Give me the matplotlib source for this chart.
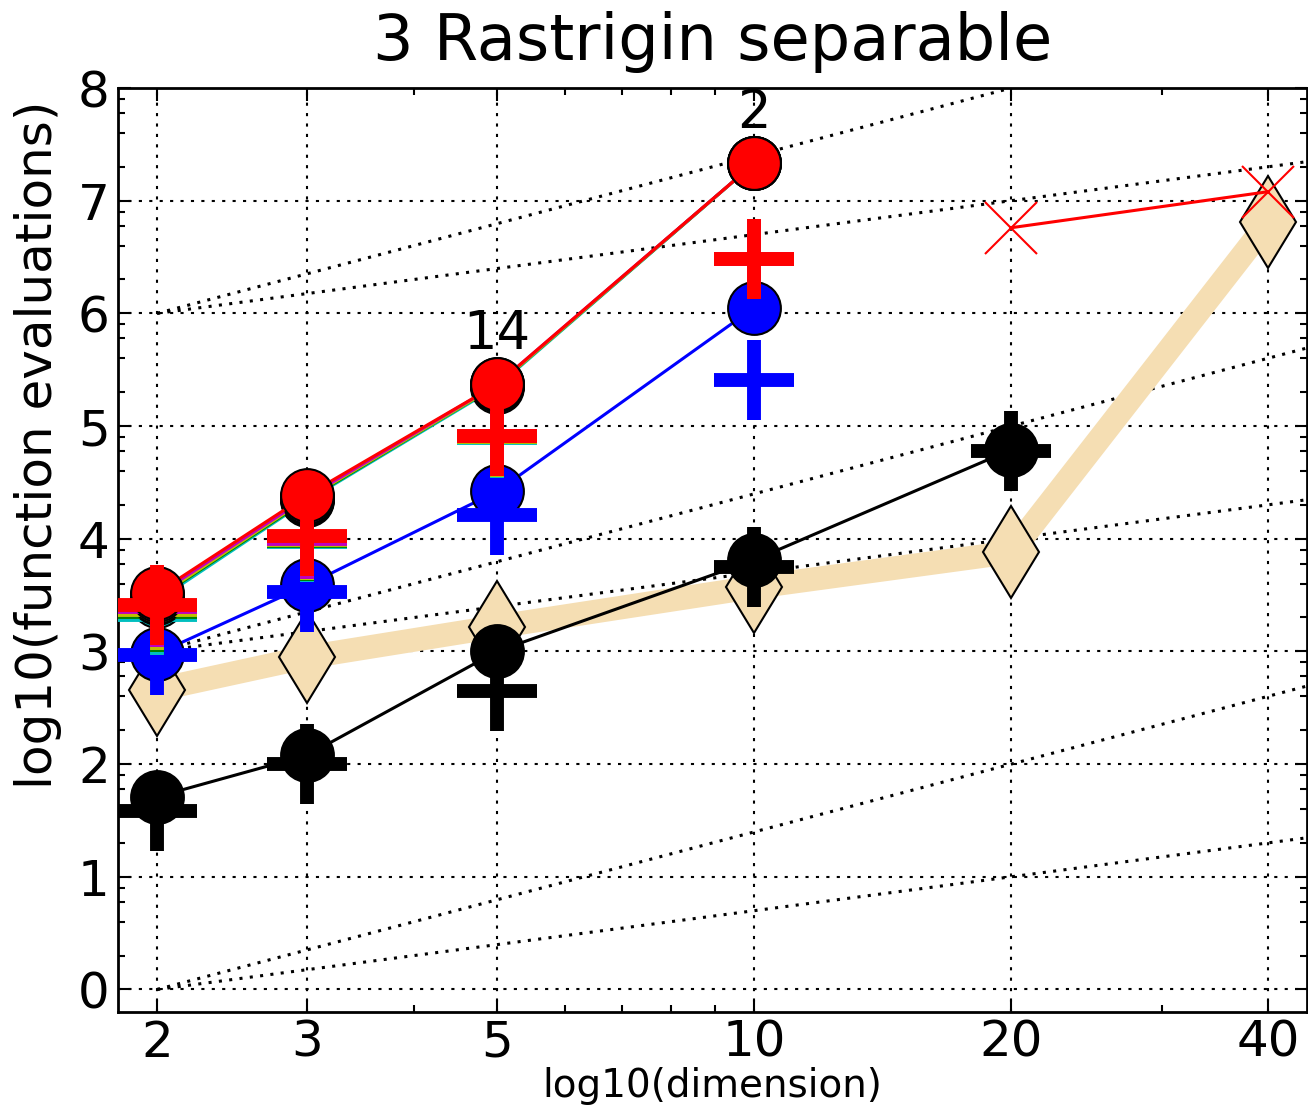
"""ERT vs dimension plot, f3 Rastrigin separable (COCO style)."""
import matplotlib
matplotlib.use('Agg')
import matplotlib.pyplot as plt
from matplotlib.ticker import FixedLocator, NullFormatter
import numpy as np

# ── data (log10 of function evaluations) ──
dims = [2, 3, 5, 10, 20, 40]

ert_k = [1.71, 2.08, 3.00, 3.81, 4.79]
med_k = [1.58, 2.00, 2.65, 3.75, 4.78]
ert_b = [2.98, 3.59, 4.42, 6.05]
med_b = [2.97, 3.53, 4.21, 5.41]
ert_c = [3.45, 4.34, 5.35, 7.33]
med_c = [3.32, 3.97, 4.89, 6.48]
ert_g = [3.47, 4.35, 5.36, 7.33]
med_g = [3.35, 3.98, 4.90, 6.48]
ert_y = [3.48, 4.36, 5.36, 7.33]
med_y = [3.37, 3.99, 4.90, 6.48]
ert_m = [3.50, 4.37, 5.37, 7.33]
med_m = [3.39, 4.00, 4.91, 6.48]
ert_r = [3.52, 4.39, 5.37, 7.33]
med_r = [3.41, 4.02, 4.91, 6.48]

best2009 = [2.66, 2.95, 3.22, 3.57, 3.88, 6.81]

maxevals_dims = [20, 40]
maxevals = [6.76, 7.08]

succ_dims = [5, 10]
succ_counts = ['14', '2']

# reference scaling lines: (x0, x1), (y0, y1)
ref_x = (2, 200)
ref_lines = [(0, 2), (0, 4), (3, 5), (3, 7), (6, 8), (6, 10)]

series = [
    ('k', ert_k, med_k),
    ('b', ert_b, med_b),
    ('c', ert_c, med_c),
    ('g', ert_g, med_g),
    ('y', ert_y, med_y),
    ('m', ert_m, med_m),
    ('r', ert_r, med_r),
]

fig = plt.figure(figsize=(13.08, 11.08), dpi=100)
ax = fig.add_axes([118/1308, 96/1108, 1189/1308, 924/1108])
ax.set_xscale('log')

# reference lines
for y0, y1 in ref_lines:
    ax.plot(ref_x, (y0, y1), color='k', lw=2.2, linestyle=(0, (1, 2.4)), zorder=1)

# best 2009
ax.plot(dims, best2009, color='wheat', lw=17, zorder=2, solid_joinstyle='miter')
ax.plot(dims, best2009, linestyle='', marker='d', markersize=47,
        markerfacecolor='wheat', markeredgecolor='k', markeredgewidth=1.5, zorder=3)

for color, ert, med in series:
    n = len(ert)
    ax.plot(dims[:n], ert, color=color, lw=2.2, marker='o', markersize=38,
            markerfacecolor=color, markeredgecolor='k', markeredgewidth=1.5, zorder=4)
    ax.plot(dims[:n], med, linestyle='', marker='+', markersize=58,
            markeredgecolor=color, markeredgewidth=10, zorder=4)

# max evals
ax.plot(maxevals_dims, maxevals, color='r', lw=2.2, marker='x', markersize=38,
        markeredgewidth=1.5, zorder=5)

# number of successful trials
for d, s in zip(succ_dims, succ_counts):
    yv = ert_r[dims.index(d)]
    ax.text(d, yv + 0.22, s, ha='center', va='bottom', fontsize=38, zorder=6)

ax.set_xlim(1.8, 44.4)
ax.set_ylim(-0.2, 8)

ax.xaxis.set_major_locator(FixedLocator(dims))
ax.set_xticklabels([str(d) for d in dims])
ax.xaxis.set_minor_locator(FixedLocator([4, 6, 7, 8, 9, 30]))
ax.xaxis.set_minor_formatter(NullFormatter())
ax.set_yticks(range(0, 9))
ax.yaxis.set_minor_locator(FixedLocator(
    [k + np.log10(m) for k in range(0, 8) for m in (2, 4, 6, 8)]))

ax.grid(True, which='major', color='k', lw=1.5, linestyle=(0, (1.5, 3.5)))
ax.tick_params(which='both', direction='in', top=True, right=True, width=1.5)
ax.tick_params(which='major', length=9, labelsize=36)
ax.tick_params(which='minor', length=5)
ax.tick_params(axis='x', pad=5)
ax.tick_params(axis='y', pad=6)
for sp in ax.spines.values():
    sp.set_linewidth(2)

ax.set_title('3 Rastrigin separable', fontsize=46, pad=20)
ax.set_xlabel('log10(dimension)', fontsize=28, labelpad=0)
ax.set_ylabel('log10(function evaluations)', fontsize=36)
ax.yaxis.set_label_coords(-0.047, 0.614)

fig.savefig('out.png', dpi=100)
plt.close()
